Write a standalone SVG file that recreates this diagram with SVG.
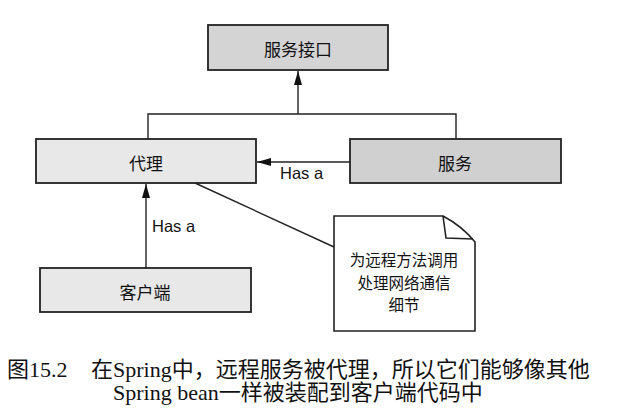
<svg xmlns="http://www.w3.org/2000/svg" width="643" height="413" viewBox="0 0 643 413">
<defs>
<style>
.box{stroke:#222;stroke-width:1.8}
.lbl{font-family:"Noto Sans CJK SC",sans-serif;font-size:17px;fill:#111;text-anchor:middle;dominant-baseline:central}
.nt{font-family:"Noto Sans CJK SC",sans-serif;font-size:15.5px;fill:#111;text-anchor:middle}
.has{font-family:"Liberation Sans",Arial,sans-serif;font-size:16.5px;fill:#111}
.cap{font-family:"Liberation Serif","Noto Sans CJK SC",serif;font-size:22px;fill:#111}
.ln{stroke:#222;stroke-width:1.4;fill:none}
</style>
<marker id="ah" markerWidth="14" markerHeight="8" refX="14" refY="4" orient="auto" markerUnits="userSpaceOnUse">
<path d="M0,0 L14,4 L0,8 Z" fill="#111"/>
</marker>
</defs>
<rect width="643" height="413" fill="#fff"/>
<g id="connectors">
<path class="ln" d="M148,139 V114 H456 V139"/>
<path class="ln" d="M298,114 V71" marker-end="url(#ah)"/>
<path class="ln" d="M350,162 H257" marker-end="url(#ah)"/>
<path class="ln" d="M146,268 V184" marker-end="url(#ah)"/>
<path class="ln" d="M195,183 L334,247"/>
<text class="has" x="280" y="179">Has a</text>
<text class="has" x="152" y="232">Has a</text>
</g>
<g id="service-interface">
<rect class="box" x="208" y="25" width="180" height="45" fill="#d4d4d4"/>
<text class="lbl" x="298" y="48">服务接口</text>
</g>
<g id="proxy">
<rect class="box" x="36" y="139" width="220" height="44" fill="#e8e8e8"/>
<text class="lbl" x="146" y="162">代理</text>
</g>
<g id="service">
<rect class="box" x="350" y="139" width="211" height="44" fill="#d0d0d0"/>
<text class="lbl" x="455" y="162">服务</text>
</g>
<g id="client">
<rect class="box" x="40" y="268" width="211" height="44" fill="#e8e8e8"/>
<text class="lbl" x="145" y="291">客户端</text>
</g>
<g id="note">
<path d="M334,216 H443 Q462,226 475,242 V331 H334 Z" fill="#fff" stroke="#222" stroke-width="1.6"/>
<path d="M443,216 L446,238 L473,239" fill="none" stroke="#222" stroke-width="1.6"/>
<text class="nt" x="404" y="266">为远程方法调用</text>
<text class="nt" x="404" y="288.5">处理网络通信</text>
<text class="nt" x="404" y="311">细节</text>
</g>
<g id="caption">
<text class="cap" x="7" y="377">图15.2</text>
<text class="cap" x="91" y="377">在Spring中，远程服务被代理，所以它们能够像其他</text>
<text class="cap" x="113" y="400">Spring bean一样被装配到客户端代码中</text>
</g>
</svg>
